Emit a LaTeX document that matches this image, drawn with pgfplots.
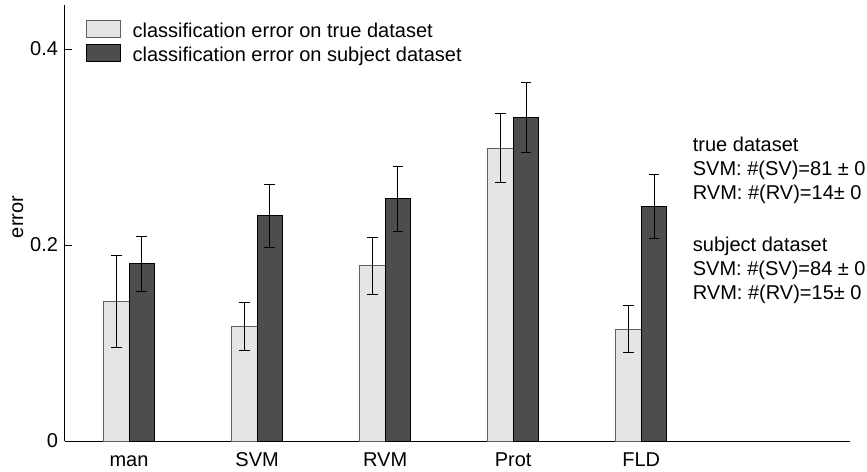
\documentclass[border=0pt]{standalone}
\usepackage{fontspec}
\setmainfont{Liberation Sans}
\usepackage{pgfplots}
\usepackage{pgfplotstable}
\pgfplotsset{compat=1.18}

\definecolor{lightbar}{RGB}{229,229,229}
\definecolor{lightedge}{RGB}{95,95,95}
\definecolor{darkbar}{RGB}{77,77,77}

% mean classification error and its spread, per classifier
\pgfplotstableread{
x   y      e
1   0.142  0.047
2   0.117  0.0245
3   0.179  0.029
4   0.299  0.035
5   0.114  0.024
}\truedata
\pgfplotstableread{
x   y      e
1   0.181  0.028
2   0.230  0.032
3   0.247  0.033
4   0.330  0.036
5   0.239  0.0325
}\subjectdata

\begin{document}
\begin{tikzpicture}
\begin{axis}[
  name=ax,
  scale only axis,
  width=392.5pt, height=218pt,
  xmin=0.5, xmax=6.63,
  ymin=0, ymax=0.445,
  clip=false,
  axis x line=bottom, axis y line=left,
  axis line style={-, line width=0.5pt, black},
  xtick={1,...,5},
  xticklabels={man,SVM,RVM,Prot,FLD},
  x tick style={draw=none},
  xticklabel style={text height=7.2pt, text depth=0pt, inner sep=0pt, yshift=-1.8pt},
  ytick={0,0.2,0.4},
  yticklabels={0,0.2,0.4},
  tick align=inside,
  major tick length=3.5pt,
  y tick style={line width=0.5pt, black},
  /pgf/number format/assume math mode=true,
  ylabel={error},
  every axis y label/.style={at={(axis description cs:-0.0535,0.514)}, rotate=90, anchor=base},
  ybar,
  bar width=0.2,
  legend image code/.code={\draw[#1] (0pt,0pt) rectangle (16.6pt,8.1pt);},
  legend style={
    draw=none, fill=none,
    at={(axis description cs:0,1)}, anchor=north west,
    xshift=10.5pt, yshift=-7.5pt,
    inner sep=0pt,
    row sep=1.15pt, column sep=6pt,
    cells={anchor=base west},
    nodes={inner sep=0pt, text height=8.1pt, text depth=2.5pt},
  },
]
\addplot[bar shift=-0.1, fill=lightbar, draw=lightedge, line width=0.5pt,
  error bars/.cd, y dir=both, y explicit,
  error bar style={black, line width=0.5pt},
  error mark options={black, rotate=90, mark size=2.7pt, line width=0.5pt}]
  table[x=x, y=y, y error=e] {\truedata};
\addlegendentry{classification error on true dataset}

\addplot[bar shift=0.1, fill=darkbar, draw=black, line width=0.5pt,
  error bars/.cd, y dir=both, y explicit,
  error bar style={black, line width=0.5pt},
  error mark options={black, rotate=90, mark size=2.7pt, line width=0.5pt}]
  table[x=x, y=y, y error=e] {\subjectdata};
\addlegendentry{classification error on subject dataset}

% support / relevance vector counts
\node[anchor=base west, inner sep=0pt] at (axis cs:5.40,0.2959) {true dataset};
\node[anchor=base west, inner sep=0pt] at (axis cs:5.40,0.2714) {SVM: \#(SV)=81 ± 0};
\node[anchor=base west, inner sep=0pt] at (axis cs:5.40,0.2469) {RVM: \#(RV)=14± 0};
\node[anchor=base west, inner sep=0pt] at (axis cs:5.40,0.1939) {subject dataset};
\node[anchor=base west, inner sep=0pt] at (axis cs:5.40,0.1694) {SVM: \#(SV)=84 ± 0};
\node[anchor=base west, inner sep=0pt] at (axis cs:5.40,0.1449) {RVM: \#(RV)=15± 0};
\end{axis}
\path (ax.south west) ++(-32.5pt,-15pt) coordinate (bbsw);
\path (ax.north east) ++(8.5pt,2.5pt) coordinate (bbne);
\pgfresetboundingbox
\path[use as bounding box] (bbsw) rectangle (bbne);
\end{tikzpicture}
\end{document}
